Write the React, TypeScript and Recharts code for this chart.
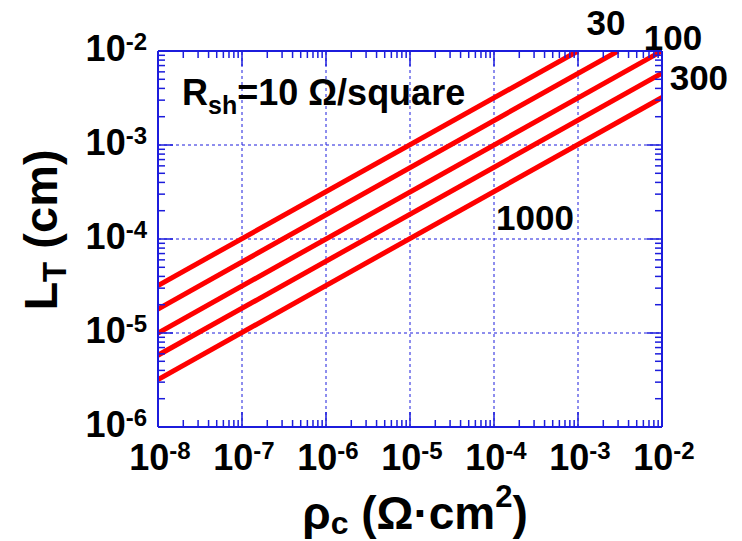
import { LineChart, Line, XAxis, YAxis, ReferenceLine, ReferenceDot, Label } from "recharts";

// transfer length vs. specific contact resistivity, log-log
const sheetResistances = [10, 30, 100, 300, 1000];
const rhoStart = [1e-8, 1e-8, 1e-8, 1e-8, 1e-8];
const rhoEnd = [1e-3, 3e-3, 1e-2, 1e-2, 1e-2];
const ltStart = [3.2e-5, 1.8e-5, 1e-5, 5.8e-6, 3.2e-6];
const ltEnd = [1e-2, 1e-2, 1e-2, 5.8e-3, 3.2e-3];

// axis ticks
const xDecades = [1e-8, 1e-7, 1e-6, 1e-5, 1e-4, 1e-3, 1e-2];
const xExponents = ["-8", "-7", "-6", "-5", "-4", "-3", "-2"];
const yDecades = [1e-6, 1e-5, 1e-4, 1e-3, 1e-2];
const yExponents = ["-6", "-5", "-4", "-3", "-2"];
const minorSteps = [2, 3, 4, 5, 6, 7, 8, 9];

// curve labels (placed in data coordinates)
const curveLabels = ["30", "100", "300", "1000"];
const curveLabelX = [2.15e-3, 1.35e-2, 2.75e-2, 3.08e-4];
const curveLabelY = [1.48e-2, 1.03e-2, 3.85e-3, 1.25e-4];

const FONT = "'Liberation Sans', Arial, Helvetica, sans-serif";
const BLUE = "#1c1cdc";
const RED = "#ff0000";

const withMinors = (decades: number[]) => {
  const out: number[] = [];
  decades.forEach((d, i) => {
    out.push(d);
    if (i < decades.length - 1) minorSteps.forEach((m) => out.push(m * d));
  });
  return out;
};

const xTicks = withMinors(xDecades);
const yTicks = withMinors(yDecades);

const series = sheetResistances.map((r, i) => ({
  name: `${r}`,
  data: [
    { x: rhoStart[i], y: ltStart[i] },
    { x: rhoEnd[i], y: ltEnd[i] },
  ],
}));

const isDecade = (v: number) => Math.abs(Math.log10(v) - Math.round(Math.log10(v))) < 1e-6;

const MAJOR = 15;
const MINOR = 7;

function makeTick(side: "bottom" | "top" | "left" | "right") {
  return (props: any) => {
    const { x, y, payload } = props;
    const v = payload.value;
    const major = isDecade(v);
    const len = major ? MAJOR : MINOR;
    let line;
    if (side === "bottom") line = <line x1={x} y1={y} x2={x} y2={y - len} />;
    else if (side === "top") line = <line x1={x} y1={y} x2={x} y2={y + len} />;
    else if (side === "left") line = <line x1={x} y1={y} x2={x + len} y2={y} />;
    else line = <line x1={x} y1={y} x2={x - len} y2={y} />;

    let text = null;
    if (major && side === "bottom") {
      const idx = xDecades.findIndex((d) => Math.abs(Math.log10(d) - Math.log10(v)) < 1e-6);
      text = (
        <text x={x + 2} y={y + 43} textAnchor="middle" fontFamily={FONT} fontWeight="bold" fontSize={36} fill="#000">
          <tspan>10</tspan>
          <tspan dy={-11} fontSize={24}>{xExponents[idx]}</tspan>
        </text>
      );
    }
    if (major && side === "left") {
      const idx = yDecades.findIndex((d) => Math.abs(Math.log10(d) - Math.log10(v)) < 1e-6);
      text = (
        <text x={x - 11} y={y + 10} textAnchor="end" fontFamily={FONT} fontWeight="bold" fontSize={36} fill="#000">
          <tspan>10</tspan>
          <tspan dy={-11} fontSize={24}>{yExponents[idx]}</tspan>
        </text>
      );
    }
    return (
      <g>
        <g stroke={BLUE} strokeWidth={1.5}>{line}</g>
        {text}
      </g>
    );
  };
}

const XTitle = (props: any) => {
  const vb = props.viewBox;
  const cx = vb.x + vb.width / 2 + 5;
  return (
    <text x={cx} y={529} textAnchor="middle" fontFamily={FONT} fontWeight="bold" fontSize={46} fill="#000">
      <tspan>ρ</tspan>
      <tspan dy={5} fontSize={32}>c</tspan>
      <tspan dy={-5}> (Ω·cm</tspan>
      <tspan dy={-22} fontSize={31}>2</tspan>
      <tspan dy={22}>)</tspan>
    </text>
  );
};

const YTitle = () => {
  const cx = 57;
  const cy = 230;
  return (
    <text
      x={cx}
      y={cy}
      transform={`rotate(-90, ${cx}, ${cy})`}
      textAnchor="middle"
      fontFamily={FONT}
      fontWeight="bold"
      fontSize={47}
      fill="#000"
    >
      <tspan>L</tspan>
      <tspan dy={9} fontSize={33}>T</tspan>
      <tspan dy={-9}> (cm)</tspan>
    </text>
  );
};

export default function App() {
  return (
    <div style={{ position: "absolute", left: 0, top: 0, width: 742, height: 541, background: "#fff" }}>
      <LineChart width={742} height={541} margin={{ top: 0, right: 0, bottom: 0, left: 0 }}>
        <XAxis
          xAxisId="bottom"
          dataKey="x"
          type="number"
          scale="log"
          domain={[1e-8, 1e-2]}
          allowDataOverflow
          ticks={xTicks}
          interval={0}
          height={114}
          tickSize={0}
          tickMargin={0}
          tickLine={false}
          axisLine={{ stroke: BLUE, strokeWidth: 2 }}
          tick={makeTick("bottom")}
        >
          <Label content={XTitle} />
        </XAxis>
        <XAxis
          xAxisId="top"
          orientation="top"
          dataKey="x"
          type="number"
          scale="log"
          domain={[1e-8, 1e-2]}
          allowDataOverflow
          ticks={xTicks}
          interval={0}
          height={51}
          tickSize={0}
          tickMargin={0}
          tickLine={false}
          axisLine={{ stroke: BLUE, strokeWidth: 2 }}
          tick={makeTick("top")}
        />
        <YAxis
          yAxisId="left"
          dataKey="y"
          type="number"
          scale="log"
          domain={[1e-6, 1e-2]}
          allowDataOverflow
          ticks={yTicks}
          interval={0}
          width={158}
          tickSize={0}
          tickMargin={0}
          tickLine={false}
          axisLine={{ stroke: BLUE, strokeWidth: 2 }}
          tick={makeTick("left")}
        >
          <Label content={YTitle} />
        </YAxis>
        <YAxis
          yAxisId="right"
          orientation="right"
          dataKey="y"
          type="number"
          scale="log"
          domain={[1e-6, 1e-2]}
          allowDataOverflow
          ticks={yTicks}
          interval={0}
          width={80}
          tickSize={0}
          tickMargin={0}
          tickLine={false}
          axisLine={{ stroke: BLUE, strokeWidth: 2 }}
          tick={makeTick("right")}
        />

        {xDecades.slice(1, -1).map((v) => (
          <ReferenceLine
            key={`gx${v}`}
            x={v}
            xAxisId="bottom"
            yAxisId="left"
            stroke={BLUE}
            strokeWidth={1}
            strokeDasharray="3 3"
          />
        ))}
        {yDecades.slice(1, -1).map((v) => (
          <ReferenceLine
            key={`gy${v}`}
            y={v}
            xAxisId="bottom"
            yAxisId="left"
            stroke={BLUE}
            strokeWidth={1}
            strokeDasharray="3 3"
          />
        ))}

        {series.map((s) => (
          <Line
            key={s.name}
            data={s.data}
            dataKey="y"
            xAxisId="bottom"
            yAxisId="left"
            type="linear"
            stroke={RED}
            strokeWidth={5}
            dot={false}
            activeDot={false}
            isAnimationActive={false}
          />
        ))}

        <ReferenceDot
          x={1.93e-8}
          y={2.67e-3}
          xAxisId="bottom"
          yAxisId="left"
          ifOverflow="visible"
          shape={(p: any) => (
            <text x={p.cx} y={p.cy} textAnchor="start" fontFamily={FONT} fontWeight="bold" fontSize={36} fill="#000">
              <tspan>R</tspan>
              <tspan dy={9} fontSize={25}>sh</tspan>
              <tspan dy={-9}>=10 Ω/square</tspan>
            </text>
          )}
        />
        {curveLabels.map((t, i) => (
          <ReferenceDot
            key={`lab${t}`}
            x={curveLabelX[i]}
            y={curveLabelY[i]}
            xAxisId="bottom"
            yAxisId="left"
            ifOverflow="visible"
            shape={(p: any) => (
              <text x={p.cx} y={p.cy} textAnchor="middle" fontFamily={FONT} fontWeight="bold" fontSize={35} fill="#000">
                {t}
              </text>
            )}
          />
        ))}
      </LineChart>
    </div>
  );
}
